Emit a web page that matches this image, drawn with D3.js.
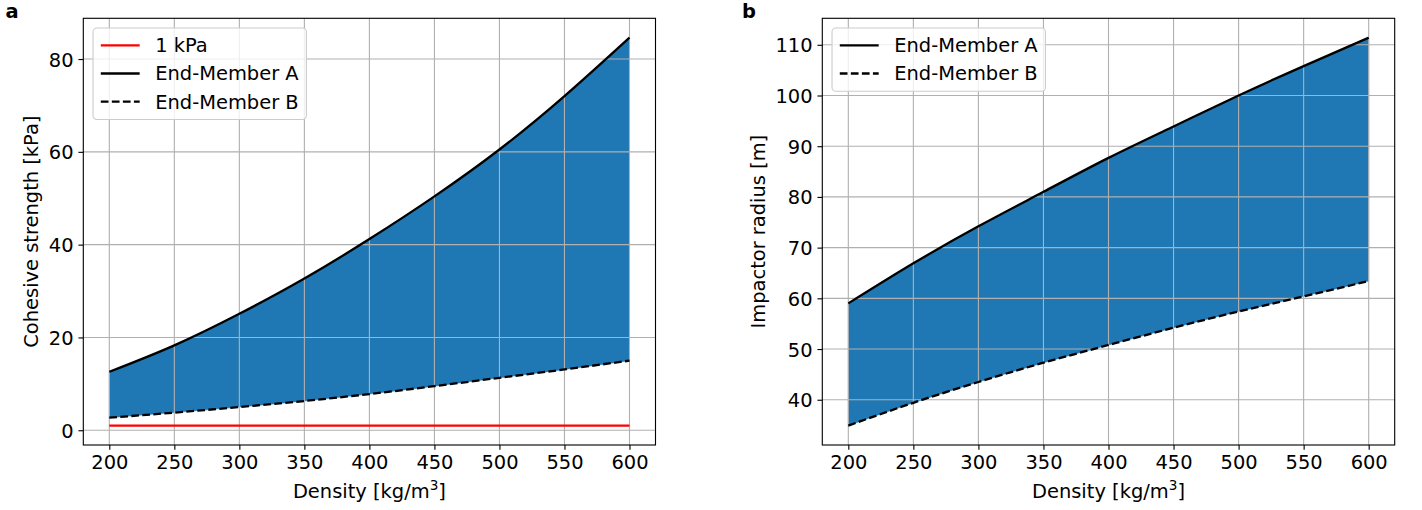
<!DOCTYPE html>
<html>
<head>
<meta charset="utf-8">
<script src="https://cdn.jsdelivr.net/npm/d3@7"></script>
<style>
  html, body { margin: 0; padding: 0; background: #fff; }
  svg { display: block; }
  text { font-family: "DejaVu Sans", sans-serif; fill: #000; }
</style>
</head>
<body>
<svg id="chart" width="1422" height="510"></svg>
<script>
// ---------------- data ----------------
const density = [200, 250, 300, 350, 400, 450, 500, 550, 600];
const cohesionA = [12.6, 18.3, 25.1, 32.7, 41.2, 50.4, 60.5, 72.0, 84.6];
const cohesionB = [2.7, 3.8, 5.0, 6.3, 7.8, 9.5, 11.3, 13.1, 15.0];
const thresholdKPa = [1, 1, 1, 1, 1, 1, 1, 1, 1];
const radiusA = [59.0, 66.9, 74.2, 81.0, 87.7, 93.9, 100.0, 105.8, 111.4];
const radiusB = [34.9, 39.4, 43.5, 47.3, 50.8, 54.2, 57.4, 60.4, 63.4];
const xTicks = [200, 250, 300, 350, 400, 450, 500, 550, 600];
const yTicksA = [0, 20, 40, 60, 80];
const yTicksB = [40, 50, 60, 70, 80, 90, 100, 110];
const legendA = ["1 kPa", "End-Member A", "End-Member B"];
const legendB = ["End-Member A", "End-Member B"];

// ---------------- style ----------------
const FS = 19.44;           // 14pt at 100 dpi
const PT = 100 / 72;
const LW = 2.3;
const THIN = 0.8 * PT;
const TICK = 3.5 * PT;
const FILL = "#1f77b4";
const GRID = "#b0b0b0";
const DASH = (3.7 * 1.5 * PT).toFixed(2) + "," + (1.6 * 1.5 * PT).toFixed(2);

const svg = d3.select("#chart");

function pad(lo, hi) { const s = hi - lo; return [lo - 0.05 * s, hi + 0.05 * s]; }

function panel(opts) {
  const { left, right, top, bottom } = opts.box;
  const g = svg.append("g");
  const xMin = d3.min(density), xMax = d3.max(density);
  const x = d3.scaleLinear().domain(pad(xMin, xMax)).range([left, right]);
  const yLo = d3.min(opts.lower.concat(opts.extraMin !== undefined ? [opts.extraMin] : []));
  const yHi = d3.max(opts.upper);
  const y = d3.scaleLinear().domain(pad(yLo, yHi)).range([bottom, top]);

  const pts = density.map((d, i) => ({ d, a: opts.upper[i], b: opts.lower[i] }));

  // fill
  g.append("path")
    .attr("d", d3.area().x(p => x(p.d)).y0(p => y(p.b)).y1(p => y(p.a)).curve(d3.curveNatural)(pts))
    .attr("fill", FILL).attr("stroke", FILL).attr("stroke-width", 0.5);

  // grid
  const grid = g.append("g");
  grid.selectAll("line.gx").data(opts.xTicks).join("line")
    .attr("x1", d => x(d)).attr("x2", d => x(d)).attr("y1", top).attr("y2", bottom)
    .attr("stroke", GRID).attr("stroke-width", THIN);
  grid.selectAll("line.gy").data(opts.yTicks).join("line")
    .attr("y1", d => y(d)).attr("y2", d => y(d)).attr("x1", left).attr("x2", right)
    .attr("stroke", GRID).attr("stroke-width", THIN);

  // threshold
  if (opts.threshold) {
    g.append("path")
      .attr("d", d3.line().x((v, i) => x(density[i])).y(v => y(v))(opts.threshold))
      .attr("fill", "none").attr("stroke", "#ff0000").attr("stroke-width", LW);
  }
  const line = d3.line().x((v, i) => x(density[i])).y(v => y(v)).curve(d3.curveNatural);
  g.append("path").attr("d", line(opts.upper))
    .attr("fill", "none").attr("stroke", "#000").attr("stroke-width", LW);
  g.append("path").attr("d", line(opts.lower))
    .attr("fill", "none").attr("stroke", "#000").attr("stroke-width", LW)
    .attr("stroke-dasharray", DASH);

  // axes
  const xa = g.append("g").attr("transform", `translate(0,${bottom})`)
    .call(d3.axisBottom(x).tickValues(opts.xTicks).tickSize(TICK).tickPadding(TICK));
  const ya = g.append("g").attr("transform", `translate(${left},0)`)
    .call(d3.axisLeft(y).tickValues(opts.yTicks).tickSize(TICK).tickPadding(TICK));
  [xa, ya].forEach(a => {
    a.select(".domain").remove();
    a.selectAll(".tick line").attr("stroke", "#000").attr("stroke-width", THIN);
    a.selectAll(".tick text").attr("font-family", "DejaVu Sans").attr("font-size", FS).attr("fill", "#000");
  });
  xa.selectAll(".tick text").attr("dy", null).attr("y", TICK + TICK + 0.76 * FS);
  ya.selectAll(".tick text").attr("dy", null).attr("y", 0.36 * FS);

  // spines
  g.append("rect").attr("x", left).attr("y", top).attr("width", right - left).attr("height", bottom - top)
    .attr("fill", "none").attr("stroke", "#000").attr("stroke-width", THIN);

  // x label
  const xl = g.append("text").attr("x", (left + right) / 2).attr("y", 498)
    .attr("text-anchor", "middle").attr("font-size", FS);
  xl.append("tspan").text("Density [kg/m");
  xl.append("tspan").attr("font-size", FS * 0.7).attr("dy", -0.42 * FS).text("3");
  xl.append("tspan").attr("dy", 0.42 * FS).text("]");

  // y label
  g.append("text").attr("transform", `translate(${opts.ylabX},${(top + bottom) / 2}) rotate(-90)`)
    .attr("text-anchor", "middle").attr("font-size", FS).text(opts.ylabel);

  // panel letter
  g.append("text").attr("x", opts.letterX).attr("y", 18.3).attr("font-size", FS)
    .attr("font-weight", "bold").text(opts.letter);

  // legend
  const lg = g.append("g");
  const bx = left + 0.5 * FS, by = top + 0.5 * FS;
  const bp = 0.4 * FS, hl = 2 * FS, htp = 0.8 * FS, pitch = 28.2;
  const texts = lg.selectAll("text").data(opts.legend).join("text")
    .attr("x", bx + bp + hl + htp).attr("y", (d, i) => by + bp + 9.5 + i * pitch + 0.36 * FS)
    .attr("font-size", FS).text(d => d);
  const tw = d3.max(texts.nodes(), n => n.getComputedTextLength());
  const bw = bp * 2 + hl + htp + tw;
  const bh = bp * 2 + 19 + (opts.legend.length - 1) * pitch + 0.5;
  lg.insert("rect", "text").attr("x", bx).attr("y", by).attr("width", bw).attr("height", bh)
    .attr("rx", 0.2 * FS).attr("fill", "#fff").attr("fill-opacity", 0.8)
    .attr("stroke", "#cccccc").attr("stroke-width", THIN);
  lg.selectAll("line").data(opts.legendStyle).join("line")
    .attr("x1", bx + bp).attr("x2", bx + bp + hl)
    .attr("y1", (d, i) => by + bp + 9.5 + i * pitch).attr("y2", (d, i) => by + bp + 9.5 + i * pitch)
    .attr("stroke", d => d.color).attr("stroke-width", LW)
    .attr("stroke-dasharray", d => d.dash ? DASH : null);
}

panel({
  box: { left: 83.3, right: 655.5, top: 18.3, bottom: 445 },
  upper: cohesionA, lower: cohesionB, extraMin: d3.min(thresholdKPa), threshold: thresholdKPa,
  xTicks, yTicks: yTicksA, ylabel: "Cohesive strength [kPa]", ylabX: 38,
  letter: "a", letterX: 5.5,
  legend: legendA,
  legendStyle: [{ color: "#ff0000" }, { color: "#000" }, { color: "#000", dash: true }]
});
panel({
  box: { left: 822.3, right: 1394.7, top: 18.3, bottom: 445 },
  upper: radiusA, lower: radiusB,
  xTicks, yTicks: yTicksB, ylabel: "Impactor radius [m]", ylabX: 765,
  letter: "b", letterX: 742,
  legend: legendB,
  legendStyle: [{ color: "#000" }, { color: "#000", dash: true }]
});
</script>
</body>
</html>
